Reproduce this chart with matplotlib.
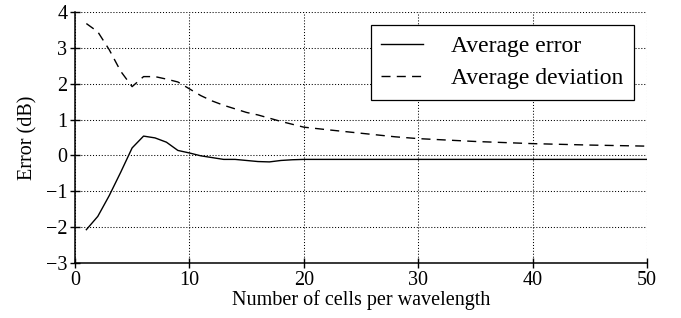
import matplotlib
matplotlib.use("Agg")
import matplotlib.pyplot as plt

# values
cells = [1, 2, 3, 4, 5, 6, 7, 8, 9, 10, 11, 12, 13, 14, 15, 16, 17, 18, 19, 20,
         22, 25, 28, 30, 35, 40, 45, 50]
avg_error = [-2.07, -1.70, -1.12, -0.47, 0.21, 0.54, 0.49, 0.37, 0.14, 0.07,
             -0.01, -0.06, -0.11, -0.11, -0.14, -0.17, -0.18, -0.14, -0.12, -0.11,
             -0.11, -0.11, -0.11, -0.11, -0.11, -0.11, -0.11, -0.11]
avg_deviation = [3.68, 3.45, 2.95, 2.35, 1.92, 2.20, 2.20, 2.13, 2.05, 1.86,
                 1.67, 1.52, 1.40, 1.30, 1.20, 1.13, 1.04, 0.95, 0.87, 0.79,
                 0.72, 0.62, 0.52, 0.47, 0.39, 0.33, 0.29, 0.26]

plt.rcParams['font.family'] = ['Liberation Serif', 'DejaVu Serif']
plt.rcParams['font.size'] = 14.5

fig = plt.figure(figsize=(6.81, 3.18), dpi=100)
ax = fig.add_axes([0.110, 0.173, 0.840, 0.789])

ax.plot(cells, avg_error, color='black', lw=1.0, label='Average error')
ax.plot(cells, avg_deviation, color='black', lw=1.0, linestyle=(0, (6.5, 4.5)),
        label='Average deviation')

ax.set_xlim(0, 50)
ax.set_ylim(-3, 4)
ax.set_xticks([0, 10, 20, 30, 40, 50])
ax.set_yticks(range(-3, 5))
ax.set_xlabel('Number of cells per wavelength', labelpad=0)
ax.set_ylabel('Error (dB)', labelpad=6)

ax.grid(True, color='black', linestyle=(0, (1, 1.8)), linewidth=0.75)
for side in ['top', 'right']:
    ax.spines[side].set_visible(False)
for side in ['left', 'bottom']:
    ax.spines[side].set_linewidth(1.1)
ax.tick_params(direction='inout', length=7, width=1, labelsize=14.5, pad=2)

leg = ax.legend(loc='upper right', fancybox=False, framealpha=1,
                edgecolor='black', fontsize=17, handlelength=1.75,
                handletextpad=1.2, borderaxespad=0.55, borderpad=0.45,
                labelspacing=0.45)
leg.get_frame().set_linewidth(0.9)

fig.savefig('out.png', dpi=100)
